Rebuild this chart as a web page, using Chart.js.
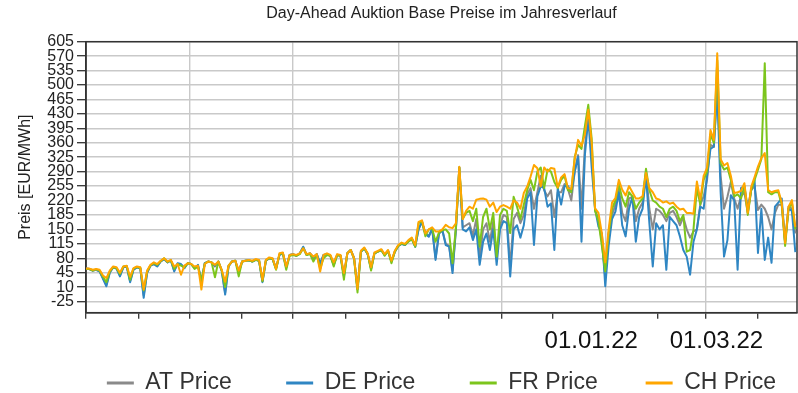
<!DOCTYPE html>
<html>
<head>
<meta charset="utf-8">
<script src="https://cdn.jsdelivr.net/npm/chart.js@4.4.1/dist/chart.umd.min.js"></script>
<style>
  html, body { margin: 0; padding: 0; background: #ffffff; }
  #wrap { width: 798px; height: 393px; position: relative; }
</style>
</head>
<body>
<div id="wrap"><canvas id="chart" width="798" height="393"></canvas></div>
<script>
// Daily base prices, one value every second day from 01.03.2021 onwards
const startDate = Date.UTC(2021, 2, 1);
const stepDays = 2;
const lastDay = 419;

const atPrice = [
  55,54,50,52,48,32,15,46,58,55,38,58,60,25,53,58,
  56,-10,44,62,66,61,72,78,70,75,50,67,64,57,68,
  66,56,63,24,68,72,70,60,72,50,-4,61,72,74,46,
  72,74,75,72,76,74,24,74,80,78,55,88,92,57,88,
  90,86,92,106,88,92,80,90,66,88,90,86,64,88,86,36,
  92,100,80,6,96,104,90,54,92,96,100,88,98,72,96,
  110,115,112,122,128,108,152,168,138,134,152,80,140,148,115,
  110,50,152,300,155,160,165,135,175,80,150,165,120,170,80,
  160,185,180,60,175,190,165,185,235,250,200,240,280,245,230,
  245,180,240,240,260,248,220,290,330,200,350,430,340,198,175,
  120,35,140,185,210,250,190,170,225,229,170,200,215,290,200,150,
  200,195,185,170,190,195,180,160,180,150,130,145,150,210,
  230,270,355,350,500,280,200,229,265,225,200,230,240,190,245,255,
  197,210,200,180,150,190,210,210,120,205,200,140
];

const dePrice = [
  55,54,50,52,48,30,12,45,58,55,36,58,60,22,52,58,
  55,-16,45,62,66,60,72,78,70,75,48,68,66,56,68,
  66,56,64,22,68,72,70,62,72,50,-8,60,72,74,48,
  72,74,75,72,76,74,22,74,80,78,55,88,92,58,88,
  90,86,92,108,88,92,82,90,68,88,90,86,64,88,86,38,
  92,100,80,5,95,104,90,55,92,96,100,88,98,72,96,
  110,115,112,122,128,108,150,168,140,132,152,76,140,148,112,
  108,44,150,300,150,145,155,124,150,64,120,140,100,150,64,
  150,170,165,36,150,160,130,160,225,240,112,230,255,250,205,
  213,100,250,210,255,255,240,290,326,120,330,420,300,200,157,
  140,12,110,175,193,240,160,133,200,229,120,180,200,280,165,60,
  165,150,160,52,180,170,160,133,100,84,40,120,150,205,
  200,280,345,351,488,240,84,124,233,220,52,250,255,200,245,270,
  93,200,76,130,69,205,215,225,117,200,195,95
];

const frPrice = [
  54,54,50,53,50,35,22,48,58,56,42,60,61,28,55,59,
  57,2,48,63,68,64,73,80,71,75,54,66,62,58,68,
  66,54,60,25,67,72,70,34,72,50,10,62,72,74,36,
  72,74,75,72,76,74,24,75,80,78,52,90,92,52,86,
  88,86,90,104,88,90,72,88,55,80,88,86,60,88,86,28,
  92,100,78,-3,96,104,90,50,92,96,100,86,98,68,96,
  110,116,113,120,126,108,165,170,133,150,152,120,142,148,150,
  140,68,155,300,175,190,195,170,200,108,180,200,150,190,84,
  185,200,195,141,229,205,175,210,245,270,245,290,300,250,295,
  290,265,250,270,280,245,240,325,355,345,400,452,370,195,170,
  110,48,140,200,220,260,225,205,240,230,200,215,225,297,245,220,
  215,205,200,180,200,205,195,170,185,96,100,150,250,210,
  270,290,380,360,560,310,295,300,270,230,235,225,255,185,245,270,
  295,320,553,240,235,240,240,210,110,200,215,150
];

const chPrice = [
  55,55,52,54,52,38,32,50,60,58,45,60,62,35,56,60,
  58,4,50,64,70,66,74,80,72,76,60,66,40,62,68,
  66,60,62,4,66,72,70,64,72,52,23,62,72,74,50,
  72,74,76,74,78,76,28,76,82,80,54,92,94,60,88,
  90,88,92,104,90,92,84,90,48,88,92,88,70,90,88,44,
  92,100,80,6,98,106,92,58,94,98,102,90,100,74,98,
  112,118,115,124,130,112,168,172,140,150,155,145,145,150,161,
  155,153,165,302,175,195,205,200,222,224,225,222,205,215,192,
  205,209,205,200,220,215,200,238,254,278,306,298,254,300,290,
  299,297,252,276,284,250,248,320,367,352,380,440,360,201,190,
  140,70,150,215,226,270,246,232,255,240,225,225,230,287,250,240,
  225,222,215,218,212,215,205,198,200,190,190,188,266,222,
  280,300,391,367,577,320,305,311,280,238,240,243,262,190,253,277,
  302,323,335,245,240,243,245,215,117,205,221,156
];

const seriesNames = ['AT Price', 'DE Price', 'FR Price', 'CH Price'];
const seriesColors = ['#8a8a8a', '#2f86c3', '#7cc51c', '#ffa600'];
const priceTicks = [-25, 10, 45, 80, 115, 150, 185, 220, 255, 290, 325, 360, 395, 430, 465, 500, 535, 570, 605];
const dateLabels = ['01.01.22', '01.03.22'];
const dateLabelDates = [Date.UTC(2022, 0, 1), Date.UTC(2022, 2, 1)];

const DAY = 86400000;
const dayOf = t => (t - startDate) / DAY;
const toPoints = vals => vals.map((v, i) => ({ x: i * stepDays, y: v }));

// month starts: every month gets a tick mark, odd calendar months get a grid line
const monthTicks = [];
for (let y = 2021, m = 2; ; ) {
  const d = dayOf(Date.UTC(y, m, 1));
  if (d > lastDay) break;
  monthTicks.push({ value: d, major: m % 2 === 0 });
  m++;
  if (m === 12) { m = 0; y++; }
}
const majorDays = new Set(monthTicks.filter(t => t.major).map(t => t.value));

const FONT = '"Liberation Sans", Arial, Helvetica, sans-serif';
const gridColor = '#c9c9c9';
const axisColor = '#333333';
// spacing appended after each legend entry (in legend order AT, DE, FR)
const legendGaps = [6, 6, 5].map(n => '\u00a0'.repeat(n));

// series listed top-most first so CH is painted over FR, DE and AT
const stack = [
  { data: chPrice, k: 3 },
  { data: frPrice, k: 2 },
  { data: dePrice, k: 1 },
  { data: atPrice, k: 0 }
];

const frame = {
  id: 'frame',
  beforeDatasetsDraw(chart) {
    const { ctx, chartArea: a } = chart;
    ctx.save();
    ctx.strokeStyle = axisColor;
    ctx.lineWidth = 1.5;
    ctx.strokeRect(a.left, a.top, a.right - a.left, a.bottom - a.top);
    ctx.restore();
  }
};

const dateText = {
  id: 'dateText',
  afterDraw(chart) {
    const { ctx, chartArea, scales: { x } } = chart;
    const nudge = [-14, 11];
    ctx.save();
    ctx.font = '24px ' + FONT;
    ctx.fillStyle = '#111111';
    ctx.textAlign = 'center';
    ctx.textBaseline = 'middle';
    dateLabels.forEach((txt, k) => {
      ctx.fillText(txt, x.getPixelForValue(dayOf(dateLabelDates[k])) + nudge[k], chartArea.bottom + 29);
    });
    ctx.restore();
  }
};

new Chart(document.getElementById('chart'), {
  type: 'line',
  data: {
    datasets: stack.map(s => ({
      label: seriesNames[s.k],
      data: toPoints(s.data),
      borderColor: seriesColors[s.k],
      backgroundColor: seriesColors[s.k],
      borderWidth: 2,
      borderJoinStyle: 'round',
      pointRadius: 0,
      tension: 0,
      fill: false
    }))
  },
  options: {
    responsive: false,
    animation: false,
    devicePixelRatio: 1,
    layout: { padding: { left: 0, right: 1, top: 0, bottom: 0 } },
    plugins: {
      title: {
        display: true,
        text: 'Day-Ahead Auktion Base Preise im Jahresverlauf',
        fullSize: false,
        color: '#222222',
        font: { family: FONT, size: 16, weight: 'normal' },
        padding: { top: 4.4, bottom: 18.1 }
      },
      legend: {
        position: 'bottom',
        fullSize: false,
        maxHeight: 37.5,
        labels: {
          color: '#333333',
          font: { family: FONT, size: 23 },
          boxWidth: 27,
          boxHeight: 3,
          padding: 16,
          generateLabels(chart) {
            const items = Chart.defaults.plugins.legend.labels.generateLabels(chart).reverse();
            items.forEach((it, k) => {
              it.lineWidth = 0;
              it.fillStyle = it.strokeStyle;
              if (k < legendGaps.length) it.text += legendGaps[k];
            });
            return items;
          }
        }
      },
      tooltip: { enabled: false }
    },
    scales: {
      x: {
        type: 'linear',
        min: 0,
        max: lastDay,
        afterBuildTicks: s => { s.ticks = monthTicks.map(t => ({ value: t.value })); },
        afterFit: s => { s.height = 42.8; },
        ticks: { display: false },
        grid: {
          color: c => (c.tick && majorDays.has(c.tick.value)) ? gridColor : 'rgba(0,0,0,0)',
          lineWidth: 1.4,
          drawTicks: true,
          tickLength: 6,
          tickColor: axisColor,
          tickWidth: 1.3
        },
        border: { color: axisColor, width: 1.5 }
      },
      y: {
        type: 'linear',
        min: -52,
        max: 605,
        afterBuildTicks: s => { s.ticks = priceTicks.map(v => ({ value: v })); },
        afterFit: s => { s.width = 86; },
        ticks: {
          autoSkip: false,
          color: '#222222',
          padding: 3,
          font: { family: FONT, size: 16 }
        },
        grid: {
          color: gridColor,
          lineWidth: 1.4,
          tickLength: 9,
          tickColor: axisColor,
          tickWidth: 1.3
        },
        border: { color: axisColor, width: 1.5 },
        title: {
          display: true,
          text: 'Preis [EUR/MWh]',
          color: '#222222',
          font: { family: FONT, size: 16 },
          padding: { top: 16.4, bottom: 0 }
        }
      }
    }
  },
  plugins: [frame, dateText]
});
</script>
</body>
</html>
